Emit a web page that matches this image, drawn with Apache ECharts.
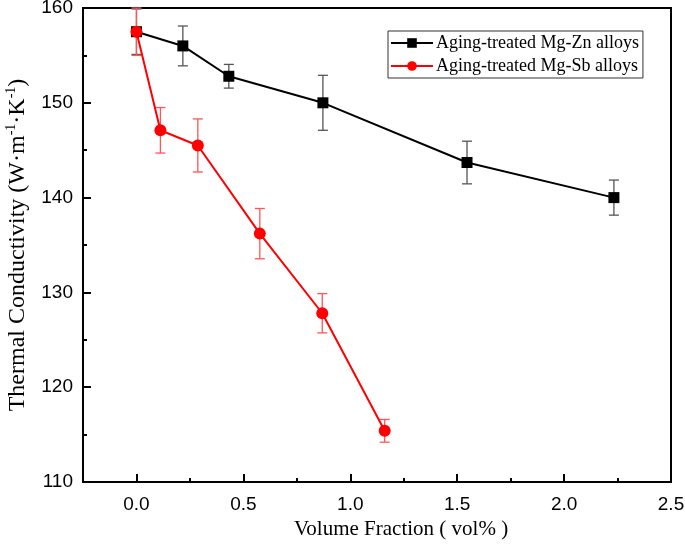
<!DOCTYPE html>
<html>
<head>
<meta charset="utf-8">
<script src="https://cdn.jsdelivr.net/npm/echarts@6/dist/echarts.min.js"></script>
<style>html,body{margin:0;padding:0;background:#fff;}#c{width:685px;height:551px;}</style>
</head>
<body>
<div id="c"></div>
<script>
// Data
var znName = 'Aging-treated Mg-Zn alloys';
var sbName = 'Aging-treated Mg-Sb alloys';
var znX = [0, 0.217, 0.432, 0.872, 1.546, 2.233];
var znY = [157.5, 156.0, 152.8, 150.0, 143.7, 140.0];
var znErr = [2.4, 2.1, 1.25, 2.9, 2.25, 1.85];
var sbX = [0, 0.112, 0.287, 0.577, 0.869, 1.161];
var sbY = [157.5, 147.1, 145.5, 136.2, 127.8, 115.4];
var sbErr = [2.5, 2.4, 2.8, 2.65, 2.07, 1.2];
var xMajor = [0, 0.5, 1.0, 1.5, 2.0, 2.5];
var xMinor = [0.25, 0.75, 1.25, 1.75, 2.25];

function pts(xs, ys){ return xs.map(function(x,i){ return [x, ys[i]]; }); }
function errs(xs, ys, es){ return xs.map(function(x,i){ return [x, ys[i]-es[i], ys[i]+es[i]]; }); }

function errRender(color){
  return function(params, api){
    var x = api.value(0), lo = api.value(1), hi = api.value(2);
    var pLo = api.coord([x, lo]), pHi = api.coord([x, hi]);
    var cw = 5;
    var st = {stroke: color, lineWidth: 1.3};
    return {type:'group', children:[
      {type:'line', shape:{x1:pLo[0], y1:pLo[1], x2:pHi[0], y2:pHi[1]}, style:st},
      {type:'line', shape:{x1:pLo[0]-cw, y1:pLo[1], x2:pLo[0]+cw, y2:pLo[1]}, style:st},
      {type:'line', shape:{x1:pHi[0]-cw, y1:pHi[1], x2:pHi[0]+cw, y2:pHi[1]}, style:st}
    ]};
  };
}

var chart = echarts.init(document.getElementById('c'), null, {renderer:'canvas'});
var sans = 'Liberation Sans, Arial, sans-serif';
var serif = 'Liberation Serif, Times New Roman, serif';
chart.setOption({
  animation:false,
  backgroundColor:'#fff',
  grid:{left:83, top:8, right:14, bottom:69, containLabel:false, outerBoundsMode:'none',
    show:true, borderColor:'#000', borderWidth:2, backgroundColor:'transparent'},
  legend:{
    data:[znName, sbName], orient:'vertical', left:388, top:31,
    backgroundColor:'#fff', borderColor:'#333', borderWidth:1, borderRadius:0,
    padding:[3,4,3,2], itemGap:5, itemWidth:42, itemHeight:12,
    textStyle:{color:'#000', fontFamily:serif, fontSize:18, padding:[0,0,0,-2]}
  },
  xAxis:[{
    type:'value', min:-0.25, max:2.5,
    name:'Volume Fraction ( vol% )', nameLocation:'middle', nameGap:36,
    nameTextStyle:{color:'#000', fontFamily:serif, fontSize:21, padding:[0,0,0,48]},
    axisLine:{show:true, onZero:false, lineStyle:{color:'#000', width:2}},
    axisTick:{show:true, inside:true, length:8, lineStyle:{color:'#000', width:2}, customValues:xMajor},
    axisLabel:{show:true, margin:13, customValues:xMajor, formatter:function(v){return v.toFixed(1);}, color:'#000', fontFamily:sans, fontSize:19},
    splitLine:{show:false}
  },{
    type:'value', min:-0.25, max:2.5, position:'bottom',
    axisLine:{show:false},
    axisTick:{show:true, inside:true, length:4, lineStyle:{color:'#000', width:2}, customValues:xMinor},
    axisLabel:{show:false},
    splitLine:{show:false}
  }],
  yAxis:{
    type:'value', min:110, max:160, interval:10,
    name:'{a|Thermal Conductivity (W·m}{s|-1}{a|·K}{s|-1}{a|)}', nameLocation:'middle', nameGap:52,
    nameTextStyle:{color:'#000', fontFamily:serif, fontSize:24,
      rich:{
        a:{fontFamily:serif, fontSize:24, color:'#000', lineHeight:26},
        s:{fontFamily:serif, fontSize:14, color:'#000', verticalAlign:'top', lineHeight:26, padding:[0,0,12,0]}
      }},
    axisLine:{show:true, onZero:false, lineStyle:{color:'#000', width:2}},
    axisTick:{show:true, inside:true, length:8, lineStyle:{color:'#000', width:2}},
    minorTick:{show:true, splitNumber:2, length:4, lineStyle:{color:'#000', width:2}},
    axisLabel:{margin:10, color:'#000', fontFamily:sans, fontSize:19},
    splitLine:{show:false}
  },
  series:[
    {type:'custom', name:'znErr', renderItem:errRender('#555'), data:errs(znX, znY, znErr), z:1, silent:true, encode:{x:0, y:[1,2]}},
    {type:'custom', name:'sbErr', renderItem:errRender('#f55'), data:errs(sbX, sbY, sbErr), z:1, silent:true, encode:{x:0, y:[1,2]}},
    {type:'line', name:znName, data:pts(znX, znY), symbol:'rect', symbolSize:11, z:3,
      itemStyle:{color:'#000'}, lineStyle:{color:'#000', width:2}},
    {type:'line', name:sbName, data:pts(sbX, sbY), symbol:'circle', symbolSize:12, z:3,
      itemStyle:{color:'#f00'}, lineStyle:{color:'#f00', width:2}}
  ]
});
</script>
</body>
</html>
